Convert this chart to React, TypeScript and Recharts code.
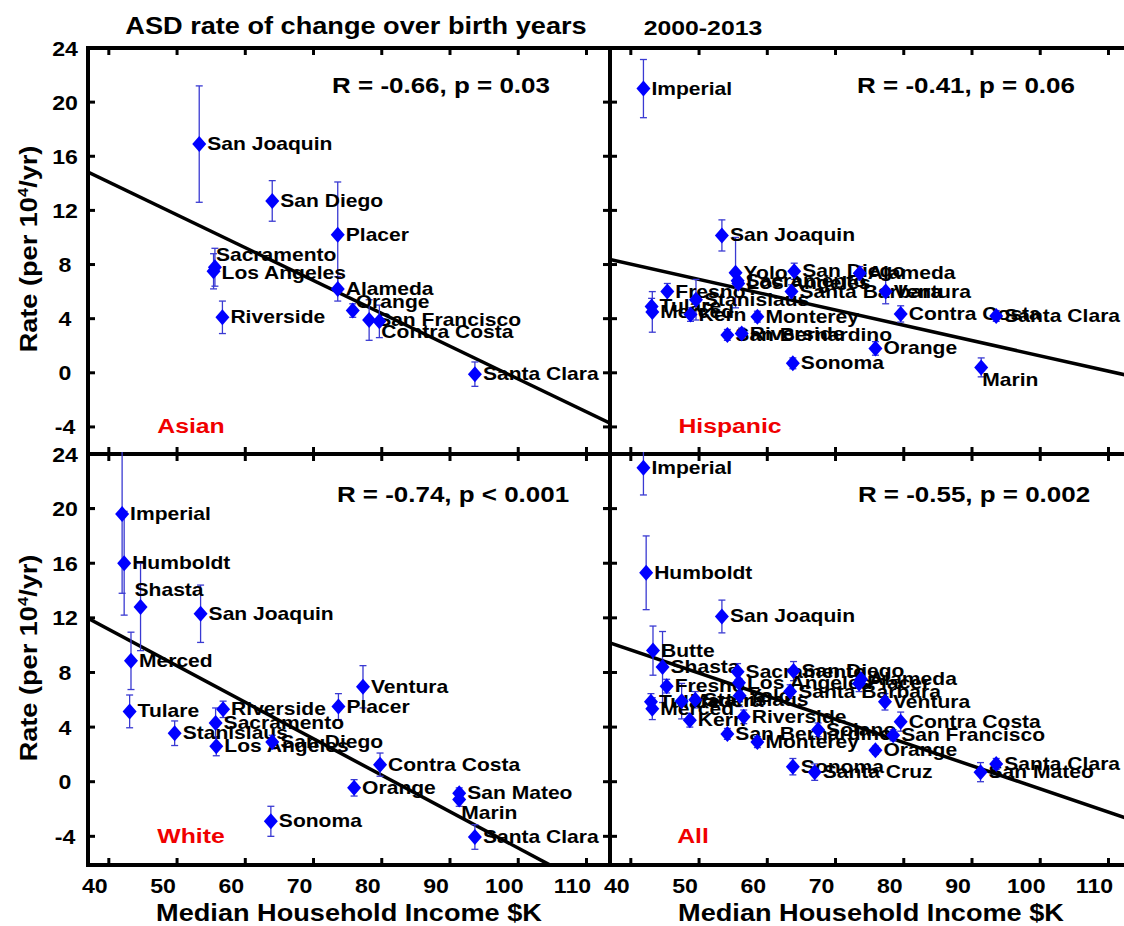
import React from 'react';
import { ScatterChart, Scatter, XAxis, YAxis, ErrorBar, ReferenceLine, ReferenceArea } from 'recharts';

// ---- data (income $K, rate per 10^4/yr, error) ----
const xTicks = [40, 50, 60, 70, 80, 90, 100, 110];
const yTicks = [-4, 0, 4, 8, 12, 16, 20, 24];

const asianNames = ['San Joaquin', 'Los Angeles', 'Sacramento', 'Riverside', 'San Diego', 'Placer', 'Alameda', 'Orange', 'San Francisco', 'Contra Costa', 'Santa Clara'];
const asianIncome = [55.3, 57.4, 57.6, 58.7, 66.0, 75.6, 75.6, 77.8, 80.2, 81.7, 95.7];
const asianRate = [16.9, 7.5, 7.8, 4.1, 12.7, 10.2, 6.2, 4.6, 3.9, 3.8, -0.1];
const asianErr = [4.3, 1.3, 1.4, 1.2, 1.5, 3.9, 0.9, 0.5, 1.5, 1.2, 0.9];
const asianFit = [{ x: 39, y: 14.84 }, { x: 115.5, y: -3.73 }];

const hispNames = ['Imperial', 'Tulare', 'Merced', 'Fresno', 'Kern', 'Stanislaus', 'San Joaquin', 'San Bernardino', 'Yolo', 'Sacramento', 'Los Angeles', 'Riverside', 'Monterey', 'Santa Barbara', 'Sonoma', 'San Diego', 'Alameda', 'Orange', 'Ventura', 'Contra Costa', 'Marin', 'Santa Clara'];
const hispIncome = [43.9, 45.1, 45.2, 47.4, 50.8, 51.6, 55.4, 56.2, 57.4, 57.7, 57.8, 58.3, 60.6, 65.6, 65.8, 66.0, 75.6, 77.9, 79.4, 81.6, 93.4, 95.6];
const hispRate = [21.0, 4.9, 4.5, 6.0, 4.3, 5.4, 10.15, 2.8, 7.4, 6.8, 6.6, 2.9, 4.15, 6.0, 0.7, 7.5, 7.35, 1.8, 6.0, 4.35, 0.4, 4.2];
const hispErr = [2.15, 0.6, 1.5, 0.6, 0.5, 1.5, 1.15, 0.4, 2.6, 0.6, 0.3, 0.4, 0.4, 0.5, 0.4, 0.6, 0.5, 0.5, 0.9, 0.6, 0.7, 0.4];
const hispFit = [{ x: 39, y: 8.38 }, { x: 115.5, y: -0.27 }];

const whiteNames = ['Imperial', 'Humboldt', 'Tulare', 'Merced', 'Shasta', 'Stanislaus', 'San Joaquin', 'Sacramento', 'Los Angeles', 'Riverside', 'Sonoma', 'San Diego', 'Placer', 'Orange', 'Ventura', 'Contra Costa', 'San Mateo', 'Marin', 'Santa Clara'];
const whiteIncome = [44.0, 44.3, 45.1, 45.3, 46.7, 51.7, 55.5, 57.7, 57.8, 58.8, 65.8, 66.0, 75.7, 78.0, 79.3, 81.8, 93.4, 93.4, 95.7];
const whiteRate = [19.6, 16.0, 5.15, 8.85, 12.8, 3.55, 12.3, 4.3, 2.6, 5.3, -2.9, 2.9, 5.5, -0.45, 6.95, 1.25, -0.85, -1.3, -4.05];
const whiteErr = [5.8, 3.8, 1.2, 2.1, 3.2, 0.9, 2.1, 1.1, 0.7, 0.6, 1.1, 0.5, 0.95, 0.6, 1.55, 0.85, 0.4, 0.5, 0.9];
const whiteFit = [{ x: 39, y: 11.97 }, { x: 106.8, y: -6.13 }];

const allNames = ['Imperial', 'Humboldt', 'Tulare', 'Merced', 'Butte', 'Shasta', 'Fresno', 'Madera', 'Kern', 'Stanislaus', 'San Joaquin', 'San Bernardino', 'Sacramento', 'Los Angeles', 'Yolo', 'Riverside', 'Monterey', 'Santa Barbara', 'Sonoma', 'San Diego', 'Santa Cruz', 'Solano', 'Placer', 'Alameda', 'Orange', 'Ventura', 'San Francisco', 'Contra Costa', 'San Mateo', 'Santa Clara'];
const allIncome = [43.9, 44.3, 45.0, 45.2, 45.3, 46.7, 47.3, 49.5, 50.7, 51.5, 55.4, 56.2, 57.7, 57.9, 58.0, 58.6, 60.6, 65.4, 65.8, 65.9, 69.0, 69.5, 75.5, 75.8, 77.9, 79.3, 80.5, 81.6, 93.3, 95.6];
const allRate = [23.0, 15.3, 5.85, 5.35, 9.6, 8.4, 7.0, 5.9, 4.5, 6.0, 12.1, 3.5, 8.05, 7.25, 6.3, 4.75, 2.9, 6.6, 1.1, 8.1, 0.7, 3.8, 7.2, 7.5, 2.3, 5.85, 3.4, 4.4, 0.7, 1.3];
const allErr = [2.0, 2.7, 0.6, 0.8, 1.8, 2.6, 0.5, 1.3, 0.5, 0.6, 1.2, 0.4, 0.6, 0.3, 0.8, 0.5, 0.4, 0.5, 0.6, 0.7, 0.6, 0.5, 0.6, 0.5, 0.3, 0.6, 0.4, 0.7, 0.7, 0.4];
const allFit = [{ x: 39, y: 10.17 }, { x: 115.5, y: -2.81 }];

// label nudges (px) for the few labels that sit off the usual right-hand spot
const labelShift: Record<string, [number, number]> = {
  'Asian:Sacramento': [-7, -12],
  'Asian:Los Angeles': [0, 2],
  'Asian:Orange': [-5, -9],
  'Asian:Contra Costa': [-6, 11],
  'Hispanic:Marin': [-7, 13],
  'White:Shasta': [-14, -17],
  'White:Marin': [-6, 14],
};

const FONT = '"Liberation Sans", Arial, Helvetica, sans-serif';
const BLUE = '#0000ff';
const BAR = '#3a3ad2';
const RED = '#f00000';
const PLOT_W = 522;
const X_DOMAIN: [number, number] = [39, 115.5];

const build = (names: string[], xs: number[], ys: number[], es: number[]) =>
  names.map((name, i) => ({ name, x: xs[i], y: ys[i], err: es[i] }));

type Margin = { top: number; right: number; bottom: number; left: number };

const Wide = ({ x, y, size, sx = 1.18, anchor = 'start', fill = '#000', children }: any) => (
  <text
    transform={`translate(${x},${y}) scale(${sx},1)`}
    fontSize={size}
    fontWeight="bold"
    fontFamily={FONT}
    textAnchor={anchor}
    fill={fill}
  >
    {children}
  </text>
);

// margins exclude the 1px axis strips (YAxis width 1, XAxis height 1)
// clip keeps error bars that run past 24 from spilling into the panel above
const panels = [
  { key: 'Asian', data: build(asianNames, asianIncome, asianRate, asianErr), fit: asianFit, left: 0, top: 0, height: 406, yDomain: [-6, 24] as [number, number], margin: { top: 48, right: 4, bottom: 3, left: 87 }, showX: false, showY: true, clip: 'none' },
  { key: 'Hispanic', data: build(hispNames, hispIncome, hispRate, hispErr), fit: hispFit, left: 590, top: 0, height: 406, yDomain: [-6, 24] as [number, number], margin: { top: 48, right: 4, bottom: 3, left: 19 }, showX: false, showY: false, clip: 'none' },
  { key: 'White', data: build(whiteNames, whiteIncome, whiteRate, whiteErr), fit: whiteFit, left: 0, top: 430, height: 411, yDomain: [-6.1, 24] as [number, number], margin: { top: 24, right: 4, bottom: 43, left: 87 }, showX: true, showY: true, clip: 'polygon(0 0, 86px 0, 86px 22px, 100% 22px, 100% 100%, 0 100%)' },
  { key: 'All', data: build(allNames, allIncome, allRate, allErr), fit: allFit, left: 590, top: 430, height: 411, yDomain: [-6.1, 24] as [number, number], margin: { top: 24, right: 4, bottom: 43, left: 19 }, showX: true, showY: false, clip: 'inset(22px 0 0 0)' },
];

const Panel = ({ p }: { p: (typeof panels)[number] }) => {
  const m: Margin = p.margin;
  const plotLeft = m.left + 1;
  const width = plotLeft + PLOT_W + m.right;
  const height = m.top + p.height + 1 + m.bottom;

  const xTick = (props: any) => {
    const { x, y, payload } = props;
    const tx = x + 14;
    return (
      <g>
        <line x1={tx} x2={tx} y1={y} y2={y - 7} stroke="#000" strokeWidth={3} />
        <line x1={tx} x2={tx} y1={m.top} y2={m.top + 7} stroke="#000" strokeWidth={3} />
        {p.showX && (
          <Wide x={x} y={y + 28} size={21} sx={1.1} anchor="middle">
            {payload.value}
          </Wide>
        )}
      </g>
    );
  };

  const yTick = (props: any) => {
    const { x, y, payload } = props;
    const right = plotLeft + PLOT_W;
    return (
      <g>
        <line x1={x} x2={x + 7} y1={y} y2={y} stroke="#000" strokeWidth={3} />
        <line x1={right - 7} x2={right} y1={y} y2={y} stroke="#000" strokeWidth={3} />
        {p.showY && (
          <Wide x={x - 23} y={y + 7.5} size={21} sx={1.1} anchor="middle">
            {payload.value}
          </Wide>
        )}
      </g>
    );
  };

  const shape = (props: any) => {
    const { cx, cy, payload } = props;
    const [dx, dy] = labelShift[`${p.key}:${payload.name}`] ?? [0, 0];
    return (
      <g>
        <path d={`M${cx},${cy - 8}L${cx + 7},${cy}L${cx},${cy + 8}L${cx - 7},${cy}Z`} fill={BLUE} />
        <Wide x={cx + 8 + dx} y={cy + 6 + dy} size={18} sx={1.17}>
          {payload.name}
        </Wide>
      </g>
    );
  };

  return (
    <div style={{ position: 'absolute', left: p.left, top: p.top, clipPath: p.clip }}>
      <ScatterChart width={width} height={height} margin={m}>
        <XAxis
          type="number"
          dataKey="x"
          domain={X_DOMAIN}
          ticks={xTicks}
          interval={0}
          allowDataOverflow
          height={1}
          tickSize={0}
          tickMargin={0}
          axisLine={false}
          tickLine={false}
          tick={xTick}
        />
        <YAxis
          type="number"
          dataKey="y"
          domain={p.yDomain}
          ticks={yTicks}
          interval={0}
          allowDataOverflow
          width={1}
          tickSize={0}
          tickMargin={0}
          axisLine={false}
          tickLine={false}
          tick={yTick}
        />
        <ReferenceLine segment={p.fit} stroke="#000" strokeWidth={3.5} ifOverflow="hidden" />
        <Scatter data={p.data} isAnimationActive={false} shape={shape}>
          <ErrorBar dataKey="err" direction="y" width={3.5} stroke={BAR} strokeWidth={1.3} />
        </Scatter>
        <ReferenceArea
          x1={X_DOMAIN[0]}
          x2={X_DOMAIN[1]}
          y1={p.yDomain[0]}
          y2={p.yDomain[1]}
          fill="none"
          fillOpacity={0}
          stroke="#000"
          strokeWidth={4}
          ifOverflow="visible"
        />
      </ScatterChart>
    </div>
  );
};

const App = () => (
  <div style={{ position: 'absolute', left: 0, top: 0, width: 1124, height: 926, overflow: 'hidden', background: '#fff' }}>
    {panels.map((p) => (
      <Panel key={p.key} p={p} />
    ))}
    <svg width={1124} height={926} style={{ position: 'absolute', left: 0, top: 0, pointerEvents: 'none' }}>
      <Wide x={356} y={34} size={23} anchor="middle">ASD rate of change over birth years</Wide>
      <Wide x={703} y={35} size={21} anchor="middle">2000-2013</Wide>

      <Wide x={441} y={93} size={22} anchor="middle">R = -0.66, p = 0.03</Wide>
      <Wide x={966} y={93} size={22} anchor="middle">R = -0.41, p = 0.06</Wide>
      <Wide x={453} y={502} size={22} anchor="middle">R = -0.74, p &lt; 0.001</Wide>
      <Wide x={974} y={502} size={22} anchor="middle">R = -0.55, p = 0.002</Wide>

      <Wide x={191} y={433} size={21} anchor="middle" fill={RED}>Asian</Wide>
      <Wide x={730} y={433} size={21} anchor="middle" fill={RED}>Hispanic</Wide>
      <Wide x={191} y={843} size={21} anchor="middle" fill={RED}>White</Wide>
      <Wide x={693} y={843} size={21} anchor="middle" fill={RED}>All</Wide>

      {[249, 658].map((cy) => (
        <text
          key={cy}
          transform={`translate(37,${cy}) rotate(-90) scale(1.18,1)`}
          textAnchor="middle"
          fontSize={23}
          fontWeight="bold"
          fontFamily={FONT}
          fill="#000"
        >
          Rate (per 10<tspan dy={-9} fontSize={14}>4</tspan>
          <tspan dy={9}>/yr)</tspan>
        </text>
      ))}

      <Wide x={349} y={921} size={23} anchor="middle">Median Household Income $K</Wide>
      <Wide x={871} y={921} size={23} anchor="middle">Median Household Income $K</Wide>
    </svg>
  </div>
);

export default App;
